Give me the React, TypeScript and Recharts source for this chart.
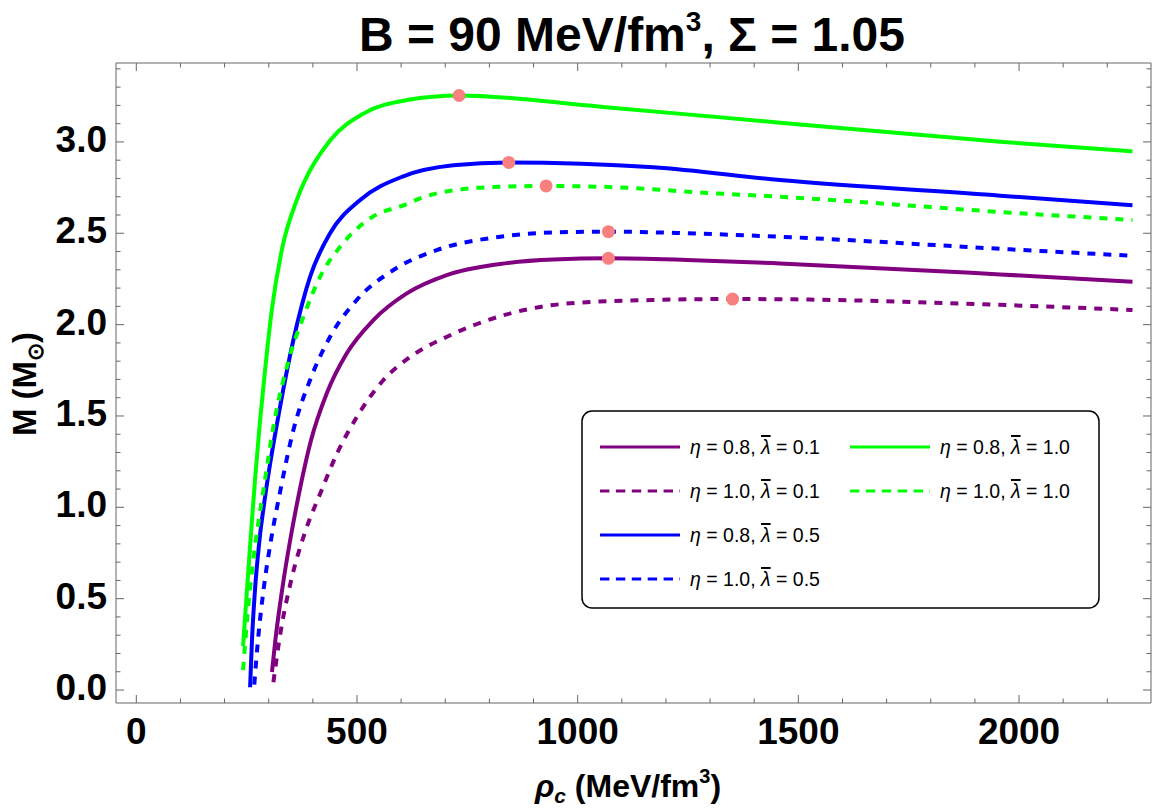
import React from 'react';
import { ComposedChart, Line, Scatter, XAxis, YAxis, Legend } from 'recharts';

// axis ticks
const X_TICKS = [0, 100, 200, 300, 400, 500, 600, 700, 800, 900, 1000, 1100, 1200, 1300, 1400, 1500, 1600, 1700, 1800, 1900, 2000, 2100, 2200];
const X_LABELS = [0, 500, 1000, 1500, 2000];
const Y_TICKS = [0, 0.1, 0.2, 0.3, 0.4, 0.5, 0.6, 0.7, 0.8, 0.9, 1, 1.1, 1.2, 1.3, 1.4, 1.5, 1.6, 1.7, 1.8, 1.9, 2, 2.1, 2.2, 2.3, 2.4, 2.5, 2.6, 2.7, 2.8, 2.9, 3, 3.1, 3.2, 3.3, 3.4];
const Y_LABELS = [0, 0.5, 1, 1.5, 2, 2.5, 3];

// [rho_c, M]
const eta08lam01 = [
  [307.4, 0.099], [315.1, 0.274], [330.3, 0.547], [348.7, 0.821], [367.2, 1.058], [396, 1.368],
  [431.6, 1.624], [476.9, 1.843], [537.2, 2.025], [612.8, 2.171], [703.4, 2.271], [824.2, 2.332],
  [944.9, 2.357], [1069.6, 2.363], [1247.2, 2.354], [1458.5, 2.335], [1957, 2.275], [2257, 2.235],
];
const eta10lam01 = [
  [310.6, 0.042], [324, 0.274], [351, 0.602], [384, 0.876], [417, 1.077], [455, 1.296], [500, 1.496],
  [560, 1.697], [621, 1.824], [704, 1.934], [802, 2.029], [983, 2.117], [1172, 2.135], [1351, 2.14],
  [1459, 2.139], [1972, 2.107], [2257, 2.08],
];
const eta08lam05 = [
  [257.8, 0.015], [262.1, 0.274], [268.9, 0.547], [279.1, 0.821], [291.8, 1.058],
  [325.8, 1.551], [355.9, 1.916], [393.7, 2.262], [439.1, 2.5], [507.2, 2.682], [605.1, 2.812],
  [718.4, 2.872], [843.9, 2.888], [1171.5, 2.861], [1458.5, 2.791], [1957, 2.706], [2257, 2.653],
];
const eta10lam05 = [
  [267.3, 0.03], [275.7, 0.274], [288.2, 0.547], [305.2, 0.821], [325.8, 1.085], [355.9, 1.423],
  [393.7, 1.697], [439.1, 1.934], [499.5, 2.135], [582.5, 2.299], [680.8, 2.408], [824.2, 2.481],
  [944.9, 2.505], [1069.6, 2.509], [1247.2, 2.5], [1458.5, 2.481], [1980, 2.412], [2257, 2.377],
];
const eta08lam10 = [
  [241.9, 0.24], [249.2, 0.493], [258.7, 0.821], [268.9, 1.149], [280.5, 1.478], [292.9, 1.779],
  [307, 2.08], [329.6, 2.408], [363.6, 2.682], [378.6, 2.771], [439, 3.008], [514.5, 3.155],
  [612.8, 3.229], [731.3, 3.254], [1051, 3.193], [1459, 3.105], [1957, 3.001], [2257, 2.948],
];
const eta10lam10 = [
  [241.9, 0.109], [247.2, 0.274], [257.4, 0.547], [271, 0.821], [288, 1.095], [310.6, 1.441],
  [352, 1.861], [378.6, 2.043], [416.4, 2.262], [461.7, 2.426], [529.7, 2.582], [612.8, 2.66],
  [642.9, 2.691], [741, 2.742], [831.7, 2.755], [928.4, 2.759], [1096, 2.751], [1285, 2.722],
  [1459, 2.7], [1980, 2.613], [2257, 2.573],
];

// maximum-mass points
const peaks = [
  [731.3, 3.254], [843.9, 2.888], [928.4, 2.759], [1069.6, 2.509], [1069.6, 2.363], [1351, 2.14],
];

const toPts = (arr: number[][]) => arr.map(([rho, m]) => ({ rho, m }));

const SERIES = [
  { key: 'a', eta: '0.8', lam: '0.1', color: '#800080', dashed: false, data: eta08lam01 },
  { key: 'b', eta: '1.0', lam: '0.1', color: '#800080', dashed: true, data: eta10lam01 },
  { key: 'c', eta: '0.8', lam: '0.5', color: '#0000FF', dashed: false, data: eta08lam05 },
  { key: 'd', eta: '1.0', lam: '0.5', color: '#0000FF', dashed: true, data: eta10lam05 },
  { key: 'e', eta: '0.8', lam: '1.0', color: '#00FF00', dashed: false, data: eta08lam10 },
  { key: 'f', eta: '1.0', lam: '1.0', color: '#00FF00', dashed: true, data: eta10lam10 },
];

const FONT = '"Liberation Sans", Arial, sans-serif';
const FRAME = '#666666';
const X_DOMAIN = [-46, 2299];
const Y_DOMAIN = [-0.071, 3.432];

function BottomTick(props: any) {
  const { x, y, payload } = props;
  const major = X_LABELS.includes(payload.value);
  return (
    <g>
      <line x1={x} x2={x} y1={y} y2={y - (major ? 8 : 4.5)} stroke={FRAME} strokeWidth={1} />
      {major && (
        <text x={x} y={y + 41} textAnchor="middle" fontFamily={FONT} fontWeight="bold" fontSize={37} fill="#000">
          {payload.value}
        </text>
      )}
    </g>
  );
}

function TopTick(props: any) {
  const { x, y, payload } = props;
  const major = X_LABELS.includes(payload.value);
  return <line x1={x} x2={x} y1={y} y2={y + (major ? 8 : 4.5)} stroke={FRAME} strokeWidth={1} />;
}

function LeftTick(props: any) {
  const { x, y, payload } = props;
  const major = Y_LABELS.includes(payload.value);
  return (
    <g>
      <line x1={x} x2={x + (major ? 8 : 4.5)} y1={y} y2={y} stroke={FRAME} strokeWidth={1} />
      {major && (
        <text x={x - 9} y={y + 10} textAnchor="end" fontFamily={FONT} fontWeight="bold" fontSize={37} fill="#000">
          {payload.value.toFixed(1)}
        </text>
      )}
    </g>
  );
}

function RightTick(props: any) {
  const { x, y, payload } = props;
  const major = Y_LABELS.includes(payload.value);
  return <line x1={x} x2={x - (major ? 8 : 4.5)} y1={y} y2={y} stroke={FRAME} strokeWidth={1} />;
}

function LegendBox() {
  return (
    <svg width={520} height={200} style={{ display: 'block' }}>
      <rect x={1} y={1} width={517} height={197} rx={10} ry={10} fill="#fff" stroke="#000" strokeWidth={1.5} />
      {SERIES.map((s, i) => {
        const col = i < 4 ? 0 : 1;
        const row = i < 4 ? i : i - 4;
        const lx = col ? 269 : 19;
        const cy = 37 + row * 44;
        return (
          <g key={s.key}>
            <line
              x1={lx}
              x2={lx + 80}
              y1={cy}
              y2={cy}
              stroke={s.color}
              strokeWidth={3}
              strokeDasharray={s.dashed ? '9.4 6.5' : undefined}
            />
            <text x={lx + 90} y={cy + 7} fontFamily={FONT} fontSize={19.5} fill="#000">
              <tspan fontStyle="italic">η</tspan>
              {` = ${s.eta}, `}
              <tspan fontStyle="italic" style={{ textDecoration: 'overline' }}>λ</tspan>
              {` = ${s.lam}`}
            </text>
          </g>
        );
      })}
    </svg>
  );
}

export default function App() {
  return (
    <div style={{ position: 'absolute', left: 0, top: 0, width: 1152, height: 810, background: '#fff' }}>
      <ComposedChart width={1152} height={810} margin={{ top: 62, right: 0, bottom: 0, left: 0 }}>
        <XAxis
          xAxisId="b"
          dataKey="rho"
          type="number"
          domain={X_DOMAIN}
          allowDataOverflow
          ticks={X_TICKS}
          interval={0}
          height={107}
          tickSize={0}
          tickMargin={0}
          tickLine={false}
          tick={<BottomTick />}
          axisLine={{ stroke: FRAME }}
        />
        <XAxis
          xAxisId="t"
          dataKey="rho"
          orientation="top"
          type="number"
          domain={X_DOMAIN}
          allowDataOverflow
          ticks={X_TICKS}
          interval={0}
          height={1}
          tickSize={0}
          tickMargin={0}
          tickLine={false}
          tick={<TopTick />}
          axisLine={{ stroke: FRAME }}
        />
        <YAxis
          yAxisId="l"
          dataKey="m"
          type="number"
          domain={Y_DOMAIN}
          allowDataOverflow
          ticks={Y_TICKS}
          interval={0}
          width={116}
          tickSize={0}
          tickMargin={0}
          tickLine={false}
          tick={<LeftTick />}
          axisLine={{ stroke: FRAME }}
        />
        <YAxis
          yAxisId="r"
          dataKey="m"
          orientation="right"
          type="number"
          domain={Y_DOMAIN}
          allowDataOverflow
          ticks={Y_TICKS}
          interval={0}
          width={1}
          tickSize={0}
          tickMargin={0}
          tickLine={false}
          tick={<RightTick />}
          axisLine={{ stroke: FRAME }}
        />
        {/* invisible series so the top/right frame axes are bound to something */}
        <Line
          xAxisId="t"
          yAxisId="r"
          data={toPts(peaks)}
          dataKey="m"
          stroke="none"
          dot={false}
          activeDot={false}
          legendType="none"
          isAnimationActive={false}
        />
        {SERIES.map((s) => (
          <Line
            key={s.key}
            xAxisId="b"
            yAxisId="l"
            data={toPts(s.data)}
            dataKey="m"
            type="monotone"
            stroke={s.color}
            strokeWidth={4}
            strokeDasharray={s.dashed ? '8 8' : undefined}
            dot={false}
            activeDot={false}
            isAnimationActive={false}
          />
        ))}
        <Scatter
          xAxisId="b"
          yAxisId="l"
          data={toPts(peaks)}
          dataKey="m"
          fill="#F88080"
          isAnimationActive={false}
          shape={(p: any) => <circle cx={p.cx} cy={p.cy} r={6.5} fill="#F88080" />}
        />
        <Legend
          layout="horizontal"
          verticalAlign="middle"
          align="center"
          wrapperStyle={{ left: 581, top: 410, width: 520, height: 200 }}
          content={() => <LegendBox />}
        />
      </ComposedChart>
      <svg
        width={1152}
        height={810}
        style={{ position: 'absolute', left: 0, top: 0, pointerEvents: 'none' }}
      >
        <text x={632} y={51} textAnchor="middle" fontFamily={FONT} fontWeight="bold" fontSize={48} fill="#000">
          {'B = 90 MeV/fm'}
          <tspan fontSize={28} dy={-20}>3</tspan>
          <tspan dy={20}>{', Σ = 1.05'}</tspan>
        </text>
        <text x={628} y={797} textAnchor="middle" fontFamily={FONT} fontWeight="bold" fontSize={32} fill="#000">
          <tspan fontStyle="italic">ρ</tspan>
          <tspan fontStyle="italic" fontSize={21} dy={6}>c</tspan>
          <tspan dy={-6}>{' (MeV/fm'}</tspan>
          <tspan fontSize={20} dy={-14}>3</tspan>
          <tspan dy={14}>)</tspan>
        </text>
        <text
          transform="rotate(-90)"
          x={-384}
          y={36}
          textAnchor="middle"
          fontFamily={FONT}
          fontWeight="bold"
          fontSize={33}
          fill="#000"
        >
          {'M (M'}
          <tspan fontSize={22} dy={7}>⊙</tspan>
          <tspan dy={-7}>)</tspan>
        </text>
      </svg>
    </div>
  );
}
